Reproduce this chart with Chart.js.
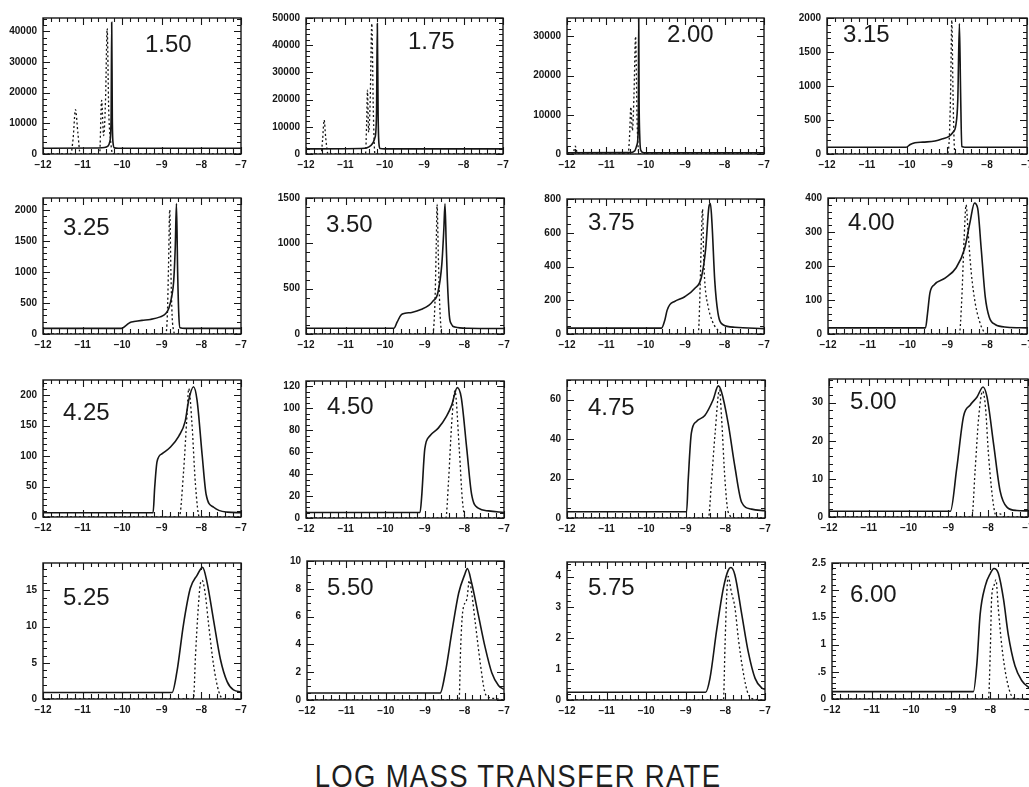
<!DOCTYPE html>
<html><head><meta charset="utf-8">
<script src="https://cdn.jsdelivr.net/npm/chart.js@4.4.0/dist/chart.umd.min.js"></script>
<style>
html,body{margin:0;padding:0;background:#fff;width:1029px;height:787px;overflow:hidden;}
body{position:relative;}
canvas{position:absolute;}
.lbl{position:absolute;font-family:'Liberation Sans',Arial,sans-serif;font-size:24px;line-height:1;color:#1a1a1a;white-space:nowrap;}
#title{position:absolute;left:0;width:1036px;top:760px;text-align:center;font-family:'Liberation Sans',Arial,sans-serif;font-size:32px;line-height:1;color:#1e1e1e;letter-spacing:1.5px;transform:scaleX(0.86);transform-origin:518px 0;}
</style></head>
<body>
<script>
// ---------------- DATA ----------------
const panelLabels = ['1.50','1.75','2.00','3.15','3.25','3.50','3.75','4.00','4.25','4.50','4.75','5.00','5.25','5.50','5.75','6.00'];
const yMaxes  = [44400,50000,34700,2000,2190,1500,800,400,225,125,70,36.2,18.8,10,4.47,2.5];
const ySteps  = [10000,10000,10000,500,500,500,200,100,50,20,20,10,5,2,1,0.5];
const yMinors = [5,5,5,5,5,5,4,5,5,4,4,5,5,4,5,5];
const xTickValues = [-12,-11,-10,-9,-8,-7];

const solid150 = [[-12,1900],[-10.6,1950],[-10.45,2100],[-10.36,2600],[-10.31,4200],[-10.28,12000],[-10.265,43000],[-10.25,12000],[-10.23,3500],[-10.2,2000],[-10.1,1900],[-7,1900]];
const dotted150 = [[-12,0],[-11.3,0],[-11.24,5000],[-11.18,14500],[-11.12,7000],[-11.06,0],[-10.57,0],[-10.52,17500],[-10.47,6000],[-10.42,18000],[-10.38,41000],[-10.34,14000],[-10.29,4000],[-10.24,0],[-7,0]];

const solid175 = [[-12,1900],[-10.6,2000],[-10.45,2300],[-10.35,3200],[-10.25,6000],[-10.21,15000],[-10.19,48000],[-10.17,15000],[-10.15,4000],[-10.12,2000],[-10.0,1900],[-7,1900]];
const dotted175 = [[-12,0],[-11.62,0],[-11.58,5000],[-11.54,12500],[-11.5,6000],[-11.44,0],[-10.49,0],[-10.46,12000],[-10.44,23500],[-10.41,8000],[-10.37,20000],[-10.33,48000],[-10.29,15000],[-10.25,0],[-7,0]];

const solid200 = [[-12,300],[-10.4,350],[-10.28,800],[-10.22,2500],[-10.19,8000],[-10.18,36000],[-10.17,13600],[-10.155,5000],[-10.13,1000],[-10.05,300],[-7,300]];
const dotted200 = [[-12,0],[-11.85,0],[-11.79,2000],[-11.73,0],[-10.45,0],[-10.41,5000],[-10.38,12000],[-10.34,6000],[-10.3,15000],[-10.26,30000],[-10.22,8000],[-10.17,0],[-10.05,0],[-10.0,500],[-9.95,0],[-7,0]];

const solid315 = [[-12,100],[-10.02,100],[-9.92,140],[-9.8,165],[-9.6,175],[-9.3,190],[-9.1,225],[-8.95,260],[-8.85,320],[-8.78,420],[-8.73,800],[-8.69,1920],[-8.66,900],[-8.63,110],[-8.55,100],[-7,100]];
const dotted315 = [[-12,0],[-9.0,0],[-8.95,150],[-8.91,900],[-8.88,1970],[-8.85,900],[-8.82,150],[-8.79,0],[-7,0]];

const solid325 = [[-12,90],[-10.02,90],[-9.9,140],[-9.8,185],[-9.7,200],[-9.5,220],[-9.29,234],[-9.04,276],[-8.9,330],[-8.82,420],[-8.75,600],[-8.7,850],[-8.66,1400],[-8.63,2100],[-8.6,1000],[-8.57,300],[-8.54,100],[-8.4,90],[-7,90]];
const dotted325 = [[-12,0],[-8.9,0],[-8.86,300],[-8.83,1100],[-8.8,2000],[-8.77,1000],[-8.74,300],[-8.7,50],[-8.66,0],[-7,0]];

const solid350 = [[-12,63],[-9.78,63],[-9.7,130],[-9.6,210],[-9.5,228],[-9.33,238],[-9.08,273],[-8.9,315],[-8.8,360],[-8.67,455],[-8.57,770],[-8.52,1150],[-8.49,1436],[-8.46,1000],[-8.43,595],[-8.38,200],[-8.33,110],[-8.24,77],[-7.9,63],[-7,60]];
const dotted350 = [[-12,0],[-8.8,0],[-8.77,100],[-8.74,400],[-8.71,1000],[-8.69,1430],[-8.66,900],[-8.63,400],[-8.6,120],[-8.57,0],[-7,0]];

const solid375 = [[-12,35],[-9.6,35],[-9.52,80],[-9.46,140],[-9.39,174],[-9.27,193],[-9.01,221],[-8.76,269],[-8.59,335],[-8.48,505],[-8.4,751],[-8.36,773],[-8.32,656],[-8.25,316],[-8.17,127],[-8.04,55],[-7.74,40],[-7,32]];
const dotted375 = [[-12,0],[-8.67,0],[-8.63,200],[-8.6,480],[-8.56,740],[-8.53,450],[-8.5,300],[-8.42,165],[-8.3,70],[-8.17,23],[-8.04,0],[-7,0]];

const solid400 = [[-12,18],[-9.55,18],[-9.5,60],[-9.44,120],[-9.33,145],[-9.05,165],[-8.78,195],[-8.57,250],[-8.43,330],[-8.32,385],[-8.24,370],[-8.15,250],[-8.05,110],[-7.95,50],[-7.8,28],[-7.5,20],[-7,18]];
const dotted400 = [[-12,0],[-8.7,0],[-8.64,100],[-8.58,280],[-8.53,380],[-8.48,300],[-8.4,180],[-8.3,90],[-8.2,40],[-8.1,10],[-8.0,0],[-7,0]];

const solid425 = [[-12,7],[-9.22,7],[-9.18,48],[-9.12,91],[-8.99,104],[-8.78,115],[-8.57,133],[-8.41,157],[-8.32,192],[-8.2,214],[-8.11,192],[-7.98,101],[-7.88,37],[-7.69,16],[-7.35,8],[-7,7]];
const dotted425 = [[-12,0],[-8.56,0],[-8.45,75],[-8.36,171],[-8.32,211],[-8.24,155],[-8.15,53],[-8.05,0],[-7,0]];

const solid450 = [[-12,5],[-9.12,5],[-9.08,19],[-9.0,63],[-8.87,75],[-8.66,82],[-8.45,93],[-8.32,103],[-8.18,119],[-8.08,110],[-7.94,63],[-7.82,22],[-7.65,9],[-7.39,6.5],[-7,5]];
const dotted450 = [[-12,0],[-8.47,0],[-8.4,34],[-8.32,87],[-8.24,116],[-8.13,63],[-8.05,16],[-7.97,0],[-7,0]];

const solid475 = [[-12,3.2],[-8.98,3.2],[-8.94,19],[-8.86,43],[-8.73,49],[-8.52,52],[-8.31,60],[-8.18,67],[-8.1,64],[-7.93,48],[-7.76,26],[-7.59,8],[-7.34,4.5],[-7,3.7]];
const dotted475 = [[-12,0],[-8.43,0],[-8.35,19],[-8.26,43],[-8.15,65],[-8.1,52],[-8.01,19],[-7.93,3],[-7.76,0],[-7,0]];

const solid500 = [[-12,1.5],[-8.95,1.5],[-8.79,12.8],[-8.62,26.4],[-8.45,29.4],[-8.28,31.5],[-8.13,34.1],[-8.03,31.5],[-7.86,18.8],[-7.7,6.8],[-7.53,2.6],[-7.28,1.7],[-7,1.6]];
const dotted500 = [[-12,0],[-8.41,0],[-8.33,12],[-8.24,26],[-8.14,33],[-8.07,29],[-7.99,16],[-7.86,2.6],[-7.78,0],[-7.7,0.8],[-7.6,0],[-7,0]];

const solid525 = [[-12,0.9],[-8.74,0.9],[-8.62,3.7],[-8.45,10.4],[-8.28,15.3],[-8.11,17.1],[-7.97,18.2],[-7.86,16.2],[-7.69,10.8],[-7.52,5.5],[-7.35,2.4],[-7.19,1.25],[-7,1.0]];
const dotted525 = [[-12,0],[-8.2,0],[-8.15,5.9],[-8.09,11.7],[-8.03,15.8],[-7.98,16.4],[-7.9,14.4],[-7.82,10.4],[-7.69,4.6],[-7.56,1.0],[-7.44,0],[-7,0]];

const solid550 = [[-12,0.5],[-8.62,0.5],[-8.49,1.96],[-8.32,4.95],[-8.15,7.7],[-8.0,9.0],[-7.93,9.45],[-7.82,8.4],[-7.65,6.1],[-7.48,3.8],[-7.31,1.96],[-7.14,1.04],[-7,0.76]];
const dotted550 = [[-12,0],[-8.14,0],[-8.1,3.8],[-8.05,6.3],[-7.94,7.3],[-7.88,8.6],[-7.82,7.7],[-7.73,5.6],[-7.6,2.6],[-7.49,0.6],[-7.39,0.2],[-7.22,0.1],[-7,0]];

const solid575 = [[-12,0.25],[-8.5,0.25],[-8.39,0.7],[-8.22,2.27],[-8.05,3.63],[-7.93,4.2],[-7.86,4.29],[-7.76,4.05],[-7.59,2.8],[-7.42,1.54],[-7.25,0.7],[-7.08,0.39],[-7,0.34]];
const dotted575 = [[-12,0],[-8.05,0],[-8.01,1.75],[-7.97,3.3],[-7.93,4.0],[-7.85,3.5],[-7.76,3.0],[-7.67,1.96],[-7.55,0.9],[-7.42,0.18],[-7.25,0.02],[-7,0]];

const solid600 = [[-12,0.135],[-8.43,0.135],[-8.34,0.66],[-8.26,1.55],[-8.13,2.08],[-8.0,2.31],[-7.91,2.4],[-7.8,2.31],[-7.67,1.84],[-7.55,1.19],[-7.38,0.61],[-7.21,0.34],[-7.04,0.22],[-7,0.2]];
const dotted600 = [[-12,0],[-8.05,0],[-8.0,0.96],[-7.97,1.84],[-7.91,2.08],[-7.86,2.19],[-7.8,1.66],[-7.71,0.96],[-7.59,0.37],[-7.46,0.05],[-7.34,0],[-7,0]];

const solidSeries  = [solid150,solid175,solid200,solid315,solid325,solid350,solid375,solid400,solid425,solid450,solid475,solid500,solid525,solid550,solid575,solid600];
const dottedSeries = [dotted150,dotted175,dotted200,dotted315,dotted325,dotted350,dotted375,dotted400,dotted425,dotted450,dotted475,dotted500,dotted525,dotted550,dotted575,dotted600];

// ---------------- LAYOUT ----------------
const RECTS = [
 [43,14,241,154],[306,14,503,154],[567,14,764,154],[827,14,1027,154],
 [43,194,241,334],[306,194,504,334],[567,195,764,334],[828,194,1027,334],
 [43,376,241,517],[306,377,504,518],[567,376,765,518],[829,375,1028,517],
 [43,559,241,699],[307,557,504,700],[567,558,765,700],[832,559,1030,699]];
const LBLPOS = [
 [145,32],[408,29],[667,22],[843,22],
 [63,215],[326,212],[588,210],[848,210],
 [63,400],[327,394],[588,395],[850,389],
 [63,585],[327,575],[588,575],[850,582]];
const PAD_L = 48, PAD_T = 8, PAD_R = 12, PAD_B = 24;
const INK = '#161616';
const X_MINORS = 5;

const framePlugin = {
  id: 'frame',
  afterDraw(chart, args, o) {
    const {ctx, chartArea: a} = chart;
    const xs = chart.scales.x, ys = chart.scales.y;
    ctx.save();
    ctx.strokeStyle = INK;
    ctx.lineWidth = 1.4;
    ctx.strokeRect(a.left, a.top, a.right - a.left, a.bottom - a.top);
    ctx.lineWidth = 1.1;
    ctx.beginPath();
    const xms = 1 / X_MINORS;
    const nx = Math.round((xs.max - xs.min) / xms);
    for (let k = 0; k <= nx; k++) {
      const px = Math.round(xs.getPixelForValue(xs.min + k * xms)) + 0.5;
      const maj = k % X_MINORS === 0;
      ctx.moveTo(px, a.bottom); ctx.lineTo(px, a.bottom - (maj ? 7 : 5));
      ctx.moveTo(px, a.top); ctx.lineTo(px, a.top + (maj ? 7 : 4));
    }
    const ms = o.step / o.minors;
    const ny = Math.floor(ys.max / ms + 1e-6);
    for (let k = 0; k <= ny; k++) {
      const py = Math.round(ys.getPixelForValue(k * ms)) + 0.5;
      const maj = k % o.minors === 0;
      const len = maj ? 7 : 4;
      ctx.moveTo(a.left, py); ctx.lineTo(a.left + len, py);
      ctx.moveTo(a.right, py); ctx.lineTo(a.right - len, py);
    }
    ctx.stroke();
    ctx.restore();
  }
};

function fmtY(v) {
  let s = String(+v.toFixed(4));
  return s.replace(/^0\./, '.');
}

const tickFont = {family: "'Liberation Sans', Arial, sans-serif", size: 10, weight: 'bold'};

for (let i = 0; i < 16; i++) {
  const [l, t, r, b] = RECTS[i];
  const cv = document.createElement('canvas');
  const w = (r - l) + PAD_L + PAD_R, h = (b - t) + PAD_T + PAD_B;
  cv.width = w; cv.height = h;
  cv.style.left = (l - PAD_L) + 'px';
  cv.style.top = (t - PAD_T) + 'px';
  cv.style.width = w + 'px'; cv.style.height = h + 'px';
  document.body.appendChild(cv);
  const step = ySteps[i];
  new Chart(cv, {
    type: 'line',
    data: {
      datasets: [
        {data: solidSeries[i].map(([x, y]) => ({x, y})), borderColor: INK, borderWidth: 1.6,
         pointRadius: 0, cubicInterpolationMode: 'monotone', fill: false},
        {data: dottedSeries[i].map(([x, y]) => ({x, y})), borderColor: INK, borderWidth: 1.3,
         borderDash: [2, 2.5], pointRadius: 0, cubicInterpolationMode: 'monotone', fill: false}
      ]
    },
    options: {
      responsive: false, animation: false, devicePixelRatio: 1,
      layout: {padding: {top: PAD_T, right: PAD_R, left: 0, bottom: 0}},
      plugins: {legend: {display: false}, tooltip: {enabled: false},
                frame: {step: step, minors: yMinors[i]}},
      scales: {
        x: {type: 'linear', min: -12, max: -7,
            afterFit: s => { s.height = PAD_B; },
            afterBuildTicks: s => { s.ticks = xTickValues.map(v => ({value: v})); },
            grid: {display: false, drawTicks: false}, border: {display: false},
            ticks: {color: INK, font: tickFont, padding: 5, maxRotation: 0, autoSkip: false,
                    callback: v => '\u2212' + Math.abs(v)}},
        y: {type: 'linear', min: 0, max: yMaxes[i],
            afterFit: s => { s.width = PAD_L; },
            afterBuildTicks: s => {
              const out = [];
              for (let k = 0; k * step <= yMaxes[i] + 1e-9; k++) out.push({value: +(k * step).toFixed(6)});
              s.ticks = out;
            },
            grid: {display: false, drawTicks: false}, border: {display: false},
            ticks: {color: INK, font: tickFont, padding: 6, autoSkip: false, callback: v => fmtY(v)}}
      }
    },
    plugins: [framePlugin]
  });
  const d = document.createElement('div');
  d.className = 'lbl';
  d.textContent = panelLabels[i];
  d.style.left = LBLPOS[i][0] + 'px';
  d.style.top = LBLPOS[i][1] + 'px';
  document.body.appendChild(d);
}
const tt = document.createElement('div');
tt.id = 'title';
tt.textContent = 'LOG MASS TRANSFER RATE';
document.body.appendChild(tt);
</script>
</body></html>
